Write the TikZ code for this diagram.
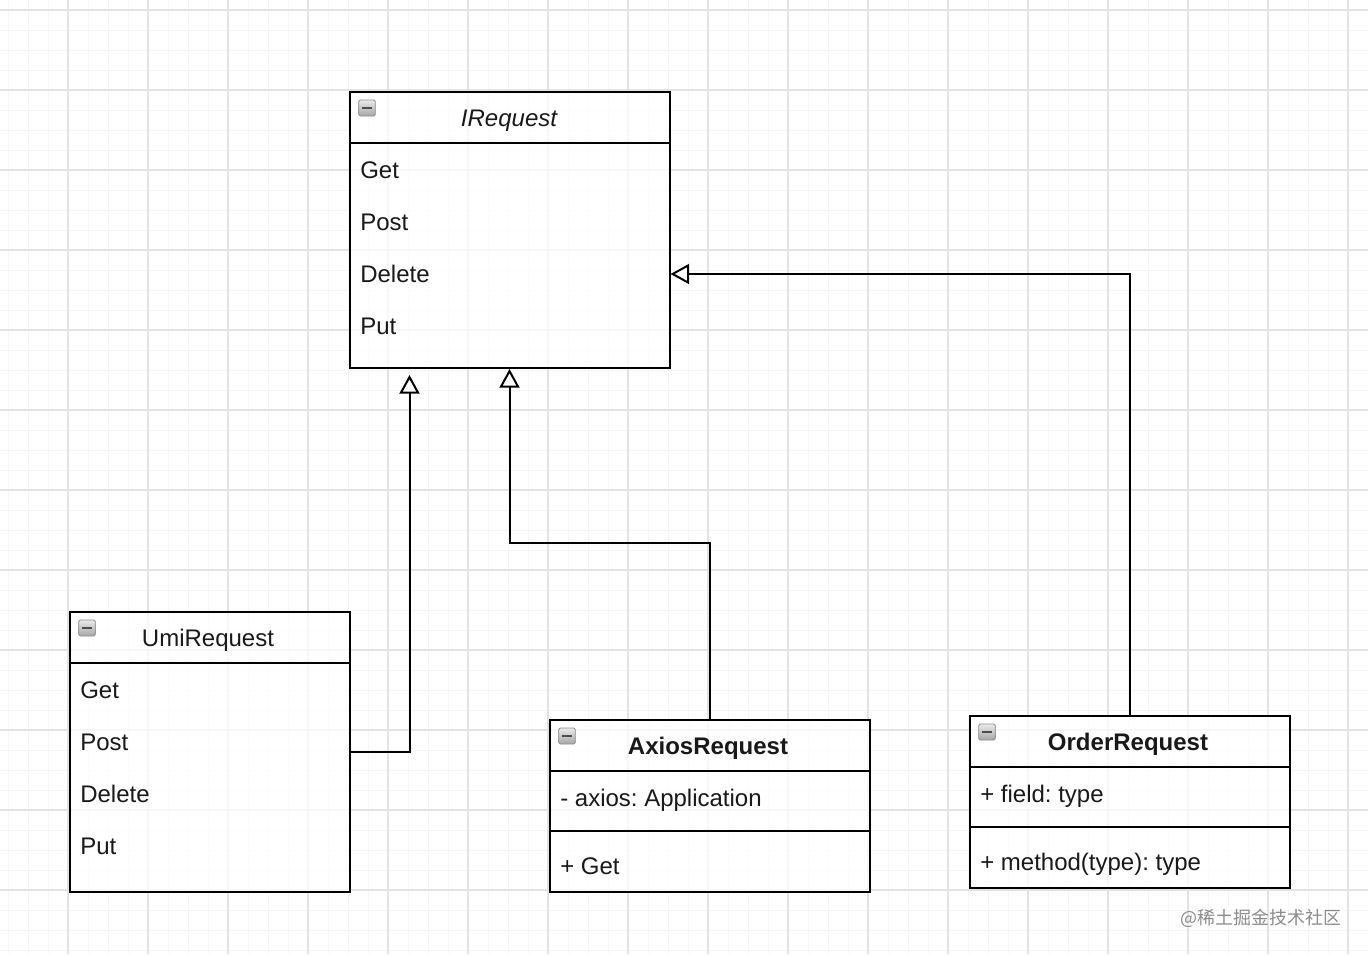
\documentclass[tikz,border=0pt]{standalone}
\usepackage{fontspec}
\setmainfont{Liberation Sans}
\newfontfamily\cjk{Noto Sans CJK SC}
\usetikzlibrary{arrows.meta}
\frenchspacing
\begin{document}
\begin{tikzpicture}[x=0.75pt,y=-0.75pt,
  minorline/.style={draw=black!4, line width=0.75pt},
  majorline/.style={draw=black!11, line width=0.9pt},
  box/.style={draw=black, line width=1.5pt, fill=white, fill opacity=0.75, anchor=north west, inner sep=0pt},
  sep/.style={draw=black, line width=1.5pt},
  lbl/.style={inner sep=0pt, anchor=base west, font=\fontsize{18}{22}\selectfont\frenchspacing, text=black!90},
  title/.style={inner sep=0pt, anchor=base, font=\fontsize{18}{22}\selectfont, text=black!90},
  icon/.style={minimum width=12.5pt, minimum height=12pt, inner sep=0pt, draw=black!45, line width=0.6pt,
     rounded corners=1.2pt, top color=black!8, bottom color=black!35,
     path picture={\draw[line width=2pt, black!70] ([xshift=-3.8pt]path picture bounding box.center) -- ([xshift=3.8pt]path picture bounding box.center);}},
  inh/.style={draw=black, line width=1.5pt, -{Triangle[open, length=14pt, width=15pt, fill=white]}}
]
\useasboundingbox (0,0) rectangle (1368,954);
\fill[white] (0,0) rectangle (1368,954);
% grid
\foreach \x in {8,28,...,1368} \draw[minorline] (\x,0) -- (\x,954);
\foreach \y in {10,30,...,954} \draw[minorline] (0,\y) -- (1368,\y);
\foreach \x in {68,148,...,1368} \draw[majorline] (\x,0) -- (\x,954);
\foreach \y in {10,90,...,954} \draw[majorline] (0,\y) -- (1368,\y);

% IRequest
\node[box, minimum width=240pt, minimum height=207pt] (ireq) at (348.5,91) {};
\draw[sep] (348.5,143) -- (668.5,143);
\node[icon] (ireqicon) at (367,108) {};
\node[title, font=\fontsize{18}{22}\selectfont\itshape] (ireqt) at (509,126.5) {IRequest};
\node[lbl] (ireq1) at (360,178.5) {Get};
\node[lbl] (ireq2) at (360,230.5) {Post};
\node[lbl] (ireq3) at (360,282.5) {Delete};
\node[lbl] (ireq4) at (360,334.5) {Put};

% UmiRequest
\node[box, minimum width=210pt, minimum height=210pt] (umi) at (68.5,611) {};
\draw[sep] (68.5,663) -- (348.5,663);
\node[icon] (umiicon) at (87,628) {};
\node[title] (umit) at (208,646.5) {UmiRequest};
\node[lbl] (umi1) at (80,698.5) {Get};
\node[lbl] (umi2) at (80,750.5) {Post};
\node[lbl] (umi3) at (80,802.5) {Delete};
\node[lbl] (umi4) at (80,854.5) {Put};

% AxiosRequest
\node[box, minimum width=240pt, minimum height=129pt] (axios) at (548.5,719) {};
\draw[sep] (548.5,771) -- (868.5,771);
\draw[sep] (548.5,831) -- (868.5,831);
\node[icon] (axiosicon) at (567,736) {};
\node[title, font=\fontsize{18}{22}\selectfont\bfseries] (axiost) at (708,754.5) {AxiosRequest};
\node[lbl] (axios1) at (560,806.5) {- axios: Application};
\node[lbl] (axios2) at (560,874.5) {+ Get};

% OrderRequest
\node[box, minimum width=240pt, minimum height=129pt] (order) at (968.5,715) {};
\draw[sep] (968.5,767) -- (1288.5,767);
\draw[sep] (968.5,827) -- (1288.5,827);
\node[icon] (ordericon) at (987,732) {};
\node[title, font=\fontsize{18}{22}\selectfont\bfseries] (ordert) at (1128,750.5) {OrderRequest};
\node[lbl] (order1) at (980,802.5) {+ field: type};
\node[lbl] (order2) at (980,870.5) {+ method(type): type};

% connectors
\draw[inh] (umi.east) -| ([xshift=-75pt,yshift=-4.5pt]ireq.south);
\draw[inh] (axios.north) -- ++(0,-176) -| (ireq.south);
\draw[inh] (order.north) |- ([yshift=-33pt]ireq.east);

% watermark
\node[inner sep=0pt, anchor=east, text=black!45, font=\cjk\fontsize{13.5}{16}\selectfont] (wm) at (1342,918) {@稀土掘金技术社区};
\end{tikzpicture}
\end{document}
